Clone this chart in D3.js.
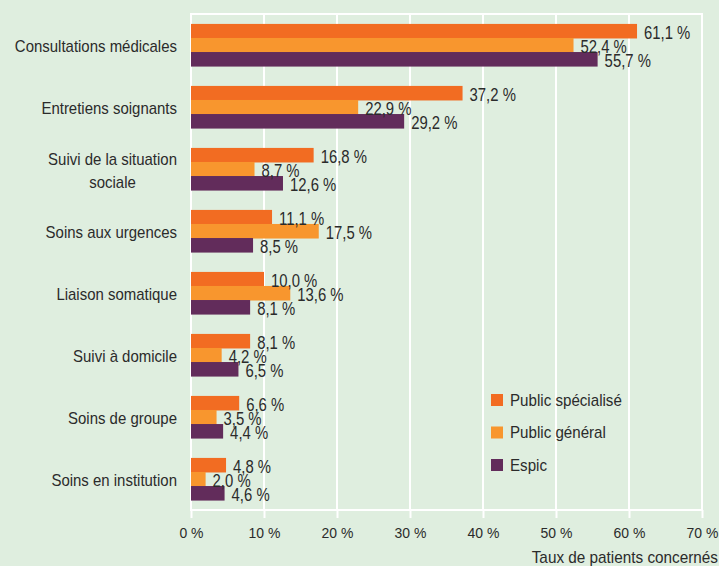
<!DOCTYPE html>
<html>
<head>
<meta charset="utf-8">
<script src="https://cdn.jsdelivr.net/npm/d3@7/dist/d3.min.js"></script>
<style>
  body { margin: 0; background: #dfeedf; }
  svg { display: block; font-family: "Liberation Sans", Arial, sans-serif; }
  .lbl { fill: #2b2b2b; }
</style>
</head>
<body>
<svg class="chart" width="719" height="566"></svg>
<script>
// categories (top to bottom)
const categories = [
  "Consultations médicales",
  "Entretiens soignants",
  "Suivi de la situation sociale",
  "Soins aux urgences",
  "Liaison somatique",
  "Suivi à domicile",
  "Soins de groupe",
  "Soins en institution"
];
// series
const seriesNames = ["Public spécialisé", "Public général", "Espic"];
const publicSpecialise = [61.1, 37.2, 16.8, 11.1, 10.0, 8.1, 6.6, 4.8];
const publicGeneral = [52.4, 22.9, 8.7, 17.5, 13.6, 4.2, 3.5, 2.0];
const espic = [55.7, 29.2, 12.6, 8.5, 8.1, 6.5, 4.4, 4.6];
const xTicks = [0, 10, 20, 30, 40, 50, 60, 70];

const colors = ["#f26c22", "#f8962e", "#622c5b"];

const plotLeft = 191, plotRight = 702, plotTop = 14, plotBottom = 510;

const svg = d3.select(".chart");

// narrow look: squeeze each text horizontally
function squeeze(sel, f) {
  sel.each(function () {
    const len = this.getComputedTextLength();
    d3.select(this)
      .attr("textLength", len * f)
      .attr("lengthAdjust", "spacingAndGlyphs");
  });
}

const x = d3.scaleLinear().domain([0, 70]).range([plotLeft, plotRight]);
const y = d3.scaleBand()
  .domain(categories)
  .range([plotTop, plotBottom])
  .paddingInner(0.32)
  .paddingOuter(0.16);
const ySub = d3.scaleBand().domain(seriesNames).range([0, y.bandwidth()]);

// grid
svg.append("g")
  .selectAll("line")
  .data(xTicks)
  .enter()
  .append("line")
  .attr("x1", d => x(d)).attr("x2", d => x(d))
  .attr("y1", plotTop).attr("y2", plotBottom)
  .attr("stroke", "#fff")
  .attr("stroke-width", 2);

svg.append("line")
  .attr("x1", plotLeft - 1).attr("x2", plotRight + 1)
  .attr("y1", plotTop).attr("y2", plotTop)
  .attr("stroke", "#fff").attr("stroke-width", 2);

// x axis
const xAxis = d3.axisBottom(x)
  .tickValues(xTicks)
  .tickSize(8)
  .tickFormat(d => d + " %");

const gx = svg.append("g")
  .attr("transform", `translate(0,${plotBottom})`)
  .call(xAxis);
gx.select(".domain").attr("stroke", "#fff").attr("stroke-width", 2)
  .attr("d", `M${plotLeft - 1},0H${plotRight + 1}`);
gx.selectAll(".tick line").attr("stroke", "#fff").attr("stroke-width", 2);
gx.selectAll(".tick text")
  .attr("class", "lbl")
  .attr("fill", "#2b2b2b")
  .attr("y", 23)
  .attr("dy", "0.35em")
  .style("font-size", "15.5px")
  .style("font-family", "Liberation Sans, Arial, sans-serif")
  .call(squeeze, 0.9);

svg.append("text")
  .attr("class", "lbl")
  .attr("x", 718)
  .attr("y", 563)
  .attr("text-anchor", "end")
  .style("font-size", "17px")
  .text("Taux de patients concernés")
  .call(squeeze, 0.9);

// bars
const table = categories.map((c, i) => ({
  cat: c,
  values: [publicSpecialise[i], publicGeneral[i], espic[i]]
}));

const fmt = v => d3.format(".1f")(v).replace(".", ",") + " %";

const groups = svg.append("g")
  .selectAll(".grp")
  .data(table)
  .enter()
  .append("g")
  .attr("class", "grp")
  .attr("transform", d => `translate(0,${y(d.cat)})`);

groups.selectAll("rect")
  .data(d => d.values.map((v, k) => ({ v, k })))
  .enter()
  .append("rect")
  .attr("x", x(0))
  .attr("y", d => ySub(seriesNames[d.k]))
  .attr("width", d => x(d.v) - x(0))
  .attr("height", ySub.bandwidth() + 0.5)
  .attr("fill", d => colors[d.k]);

groups.selectAll(".val")
  .data(d => d.values.map((v, k) => ({ v, k })))
  .enter()
  .append("text")
  .attr("class", "lbl val")
  .attr("x", d => x(d.v) + 7)
  .attr("y", d => ySub(seriesNames[d.k]) + ySub.bandwidth() / 2 + 2)
  .attr("dy", "0.35em")
  .style("font-size", "17.5px")
  .text(d => fmt(d.v))
  .call(squeeze, 0.85);

// category labels
const catLines = {
  "Suivi de la situation sociale": ["Suivi de la situation", "sociale"]
};
categories.forEach(c => {
  const cy = y(c) + y.bandwidth() / 2 + 1.5;
  const lines = catLines[c] || [c];
  const t = svg.append("text")
    .attr("class", "lbl")
    .style("font-size", "17px")
    .attr("text-anchor", "middle");
  lines.forEach((ln, j) => {
    t.append("tspan")
      .attr("x", 0)
      .attr("y", cy + (j - (lines.length - 1) / 2) * 23)
      .attr("dy", "0.35em")
      .text(ln);
  });
  t.selectAll("tspan").call(squeeze, 0.88);
  const w = d3.max(t.selectAll("tspan").nodes(), n => +n.getAttribute("textLength"));
  t.selectAll("tspan").attr("x", 177 - w / 2);
});

// legend
const legend = svg.append("g")
  .selectAll("g")
  .data(seriesNames)
  .enter()
  .append("g")
  .attr("transform", (d, i) => `translate(491,${400 + i * 32.5})`);

legend.append("rect")
  .attr("x", 0).attr("y", -6)
  .attr("width", 12).attr("height", 12)
  .attr("fill", (d, i) => colors[i]);

legend.append("text")
  .attr("class", "lbl")
  .attr("x", 19)
  .attr("dy", "0.35em")
  .style("font-size", "17px")
  .text(d => d)
  .call(squeeze, 0.89);
</script>
</body>
</html>
